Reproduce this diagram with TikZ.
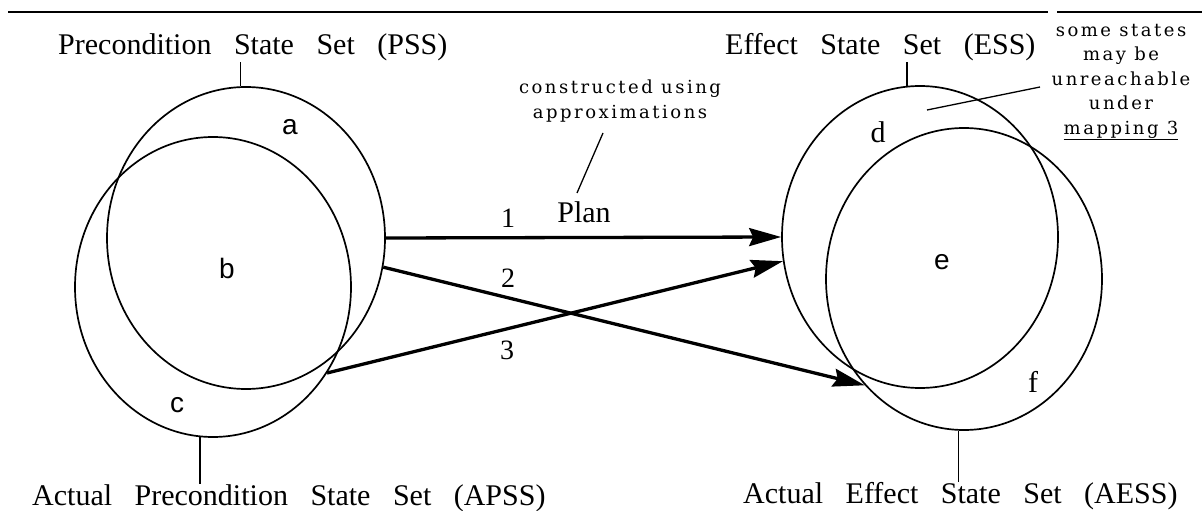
\documentclass[tikz,border=0pt]{standalone}
\usepackage{fontspec}
\setmainfont{Liberation Serif}
\newfontfamily\lblfont[WordSpace=3]{Liberation Serif}
\newfontfamily\sansfnt{Liberation Sans}
\newfontfamily\notefnt[LetterSpace=14]{DejaVu Serif}
\usetikzlibrary{shapes.geometric,arrows.meta}
\tikzset{
  setshape/.style={draw, ellipse, inner sep=0pt, line width=1.7pt},
  biglabel/.style={font=\lblfont\fontsize{30}{36}\selectfont, inner sep=0pt},
  numlabel/.style={font=\fontsize{28}{32}\selectfont, inner sep=0pt},
  regsans/.style={font=\sansfnt\fontsize{28}{30}\selectfont, inner sep=0pt},
  regserif/.style={font=\fontsize{30}{30}\selectfont, inner sep=0pt},
  notetext/.style={font=\notefnt\fontsize{18}{24.5}\selectfont, inner sep=0pt, align=center},
  maparrow/.style={line width=3.3pt, -{Stealth[length=32pt,width=18pt,inset=4pt]}},
  tickline/.style={line width=1.5pt},
  leader/.style={line width=1.3pt},
  rule/.style={line width=2.2pt}
}
\begin{document}
\begin{tikzpicture}[x=1pt,y=-1pt]
\useasboundingbox (0,0) rectangle (1202,511);
% top rule
\draw[rule] (8,12) -- (1048,12);
\draw[rule] (1057,12) -- (1202,12);
% state sets
\node[setshape, minimum width=278pt, minimum height=302pt] (pss) at (246,238) {};
\node[setshape, minimum width=276pt, minimum height=300pt] (apss) at (213,287) {};
\node[setshape, minimum width=276pt, minimum height=302pt] (ess) at (920,237) {};
\node[setshape, minimum width=276pt, minimum height=302pt] (aess) at (964,279) {};
% set labels
\node[biglabel, anchor=base west] (psslbl) at (58,55) {Precondition State Set (PSS)};
\node[biglabel, anchor=base west] (esslbl) at (725,55) {Effect State Set (ESS)};
\node[biglabel, anchor=base west] (apsslbl) at (32,505) {Actual Precondition State Set (APSS)};
\node[biglabel, anchor=base west] (aesslbl) at (743,503) {Actual Effect State Set (AESS)};
\draw[tickline] (pss.92.3) -- (pss.92.3 |- psslbl.south);
\draw[tickline] (ess.95.6) -- (ess.95.6 |- esslbl.south);
\draw[tickline] (apss.265) -- (apss.265 |- apsslbl.north);
\draw[tickline] (aess.268.5) -- (aess.268.5 |- aesslbl.north);
% region letters
\node[regsans] (ra) at (290,127) {a};
\node[regsans] (rb) at (227,268) {b};
\node[regsans] (rc) at (177,405) {c};
\node[regserif] (rd) at (878,132) {d};
\node[regsans] (re) at (942,262) {e};
\node[regserif] (rf) at (1033,382) {f};
% mappings
\draw[maparrow] (pss.0) -- (ess.180);
\draw[maparrow] (pss.-12) -- (aess.227);
\draw[maparrow] (apss.-37) -- (ess.190.5);
\node[numlabel] (n1) at (508,218) {1};
\node[numlabel] (n2) at (508,278) {2};
\node[numlabel] (n3) at (507,350) {3};
\node[biglabel, anchor=base] (plan) at (584,222) {Plan};
% annotations
\node[notetext] (anno) at (620,101) {constructed using\\approximations};
\coordinate (annoA) at (603,133);
\coordinate (annoB) at (577,193);
\draw[leader] (annoA) -- (annoB);
\node[notetext] (note) at (1121,82) {some states\\may be\\unreachable\\under\\\underline{mapping 3}};
\coordinate (noteA) at (1040,87);
\coordinate (noteB) at (927,110);
\draw[leader] (noteA) -- (noteB);
\end{tikzpicture}
\end{document}
